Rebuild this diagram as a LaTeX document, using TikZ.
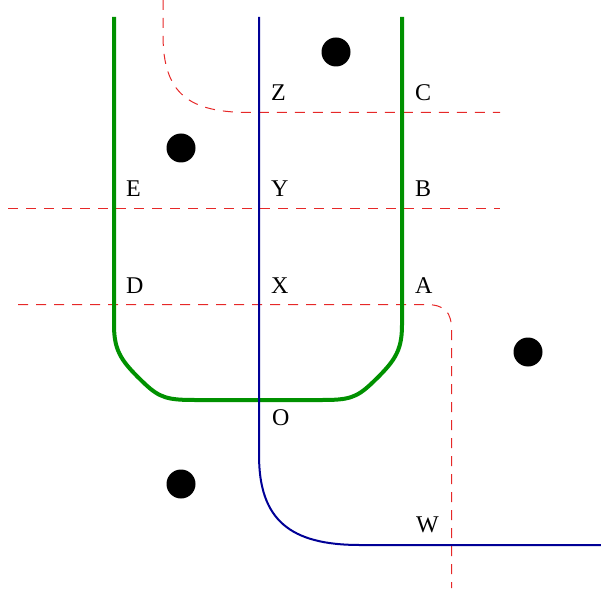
\documentclass[tikz,border=0pt]{standalone}
\usepackage{fontspec}
\setmainfont{Liberation Serif}
\begin{document}
\begin{tikzpicture}[x=1pt,y=-1pt,
  lbl/.style={anchor=base west,inner sep=0pt,font=\fontsize{24}{28}\selectfont},
  wall/.style={draw={rgb,255:red,0;green,145;blue,0},line width=4pt},
  road/.style={draw={rgb,255:red,0;green,0;blue,150},line width=2pt},
  cut/.style={draw={rgb,255:red,230;green,40;blue,40},line width=1pt,dash pattern=on 10pt off 8pt},
  dot/.style={circle,fill=black,minimum size=29pt,inner sep=0pt}]
\useasboundingbox (0,0) rectangle (601,593);
% red dashed lines
\coordinate (r1s) at (163,0);
\coordinate (r1e) at (500,112.5);
\draw[cut] (r1s) -- (163,35) .. controls (163,95) and (190,112.5) .. (250,112.5) -- (r1e);
\coordinate (r2s) at (8,208.5);
\coordinate (r2e) at (500,208.5);
\draw[cut] (r2s) -- (r2e);
\coordinate (r3s) at (18,304.5);
\coordinate (r3e) at (451.5,588);
\draw[cut] (r3s) -- (425,304.5) .. controls (445,304.5) and (451.5,312) .. (451.5,330) -- (r3e);
% green U
\coordinate (g1) at (114,17);
\coordinate (g2) at (402,17);
\draw[wall] (g1) -- (114,325) .. controls (114,352) and (122,362) .. (145,384)
  .. controls (160,398) and (168,400) .. (195,400) -- (322,400)
  .. controls (348,400) and (356,398) .. (371,384)
  .. controls (394,362) and (402,352) .. (402,325) -- (g2);
% blue line
\coordinate (b1) at (259,17);
\coordinate (b2) at (601,545);
\draw[road] (b1) -- (259,455) .. controls (259,520) and (290,545) .. (360,545) -- (b2);
% dots
\node[dot] (d1) at (336,52) {};
\node[dot] (d2) at (181,148) {};
\node[dot] (d3) at (528,352) {};
\node[dot] (d4) at (181,484) {};
% labels
\node[lbl] (Z) at (271,101) {Z};
\node[lbl] (C) at (415,101) {C};
\node[lbl] (E) at (126,197) {E};
\node[lbl] (Y) at (271,197) {Y};
\node[lbl] (B) at (415,197) {B};
\node[lbl] (D) at (126,293) {D};
\node[lbl] (X) at (271,293) {X};
\node[lbl] (A) at (415,293) {A};
\node[lbl] (O) at (272,425) {O};
\node[lbl] (W) at (416,532) {W};
\end{tikzpicture}
\end{document}
